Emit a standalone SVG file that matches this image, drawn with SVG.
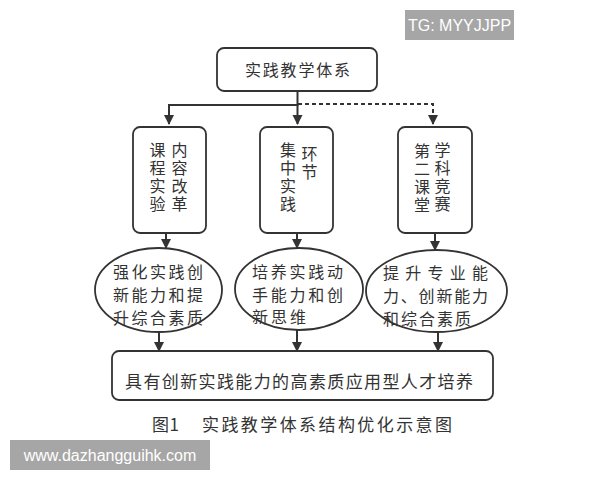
<svg xmlns="http://www.w3.org/2000/svg" width="600" height="480" viewBox="0 0 600 480">
<defs>
<marker id="ah" markerUnits="userSpaceOnUse" markerWidth="10" markerHeight="12" viewBox="0 0 10 12" refX="9" refY="5" orient="auto">
<path d="M0,0 L10,5 L0,10 Z" fill="#333"/>
</marker>
<style>
.n{fill:#fff;stroke:#333;stroke-width:1.8}
.t{font-family:"Noto Sans CJK SC","Noto Sans CJK TC",sans-serif;fill:#333;dominant-baseline:central}
.v{font-family:"Noto Sans CJK SC","Noto Sans CJK TC",sans-serif;fill:#333;font-size:16px;writing-mode:vertical-rl;text-orientation:upright;letter-spacing:2px}
.e{font-size:16px}
.c{fill:none;stroke:#333;stroke-width:2}
.wm{fill:#a6a6a6}
.wt{font-family:"Liberation Sans",Arial,sans-serif;fill:#fff;text-anchor:middle;dominant-baseline:central}
</style>
</defs>
<rect width="600" height="480" fill="#fff"/>

<g id="connectors">
<path class="c" d="M297.5 91 V105"/>
<path class="c" d="M298.5 105 H169 V124" marker-end="url(#ah)"/>
<path class="c" d="M297.5 105 V124" marker-end="url(#ah)"/>
<path class="c" d="M298 104 H433 V124" stroke-dasharray="4 3" marker-end="url(#ah)"/>
<path class="c" d="M166 233 V248" marker-end="url(#ah)"/>
<path class="c" d="M297 233 V248" marker-end="url(#ah)"/>
<path class="c" d="M435 233 V250" marker-end="url(#ah)"/>
<path class="c" d="M159 332 V351" marker-end="url(#ah)"/>
<path class="c" d="M297 330 V351" marker-end="url(#ah)"/>
<path class="c" d="M438 332 V351" marker-end="url(#ah)"/>
</g>

<g id="root">
<rect class="n" x="217" y="48" width="160" height="43" rx="7"/>
<text class="t" x="245" y="69" font-size="16" textLength="105" lengthAdjust="spacing">实践教学体系</text>
</g>

<g id="box1">
<rect class="n" x="133" y="127" width="73" height="106" rx="7"/>
<text class="v" x="157.5" y="141.5">课程实验</text>
<text class="v" x="179.5" y="142">内容改革</text>
</g>

<g id="box2">
<rect class="n" x="260" y="127" width="73" height="106" rx="7"/>
<text class="v" x="288" y="142">集中实践</text>
<text class="v" x="309.5" y="145.5">环节</text>
</g>

<g id="box3">
<rect class="n" x="398" y="127" width="74" height="106" rx="7"/>
<text class="v" x="422" y="142.5">第二课堂</text>
<text class="v" x="442.5" y="142">学科竞赛</text>
</g>

<g id="goal1">
<ellipse class="n" cx="158.5" cy="290" rx="63.5" ry="42"/>
<text class="t e" x="113" y="271" textLength="90" lengthAdjust="spacing">强化实践创</text>
<text class="t e" x="113" y="294" textLength="90" lengthAdjust="spacing">新能力和提</text>
<text class="t e" x="113" y="317" textLength="90" lengthAdjust="spacing">升综合素质</text>
</g>

<g id="goal2">
<ellipse class="n" cx="299" cy="289" rx="64" ry="41"/>
<text class="t e" x="252" y="271" textLength="91" lengthAdjust="spacing">培养实践动</text>
<text class="t e" x="252" y="294" textLength="91" lengthAdjust="spacing">手能力和创</text>
<text class="t e" x="252" y="316" textLength="54" lengthAdjust="spacing">新思维</text>
</g>

<g id="goal3">
<ellipse class="n" cx="436.5" cy="291" rx="70.5" ry="41"/>
<text class="t e" x="383" y="272" textLength="105" lengthAdjust="spacing">提升专业能</text>
<text class="t e" x="383" y="295" textLength="105" lengthAdjust="spacing">力、创新能力</text>
<text class="t e" x="383" y="318" textLength="88" lengthAdjust="spacing">和综合素质</text>
</g>

<g id="result">
<rect class="n" x="112" y="351" width="381" height="49" rx="7"/>
<text class="t" x="125" y="380" font-size="17" textLength="348" lengthAdjust="spacing">具有创新实践能力的高素质应用型人才培养</text>
</g>

<text class="t" x="152" y="423" font-size="17" textLength="27" lengthAdjust="spacing">图1</text>
<text class="t" x="202" y="423" font-size="17" textLength="250" lengthAdjust="spacing">实践教学体系结构优化示意图</text>

<rect class="wm" x="405" y="10" width="109" height="30"/>
<text class="wt" x="459.5" y="25.5" font-size="16">TG: MYYJJPP</text>
<rect class="wm" x="10" y="440" width="200" height="30"/>
<text class="wt" x="110" y="455.5" font-size="16">www.dazhangguihk.com</text>
</svg>
